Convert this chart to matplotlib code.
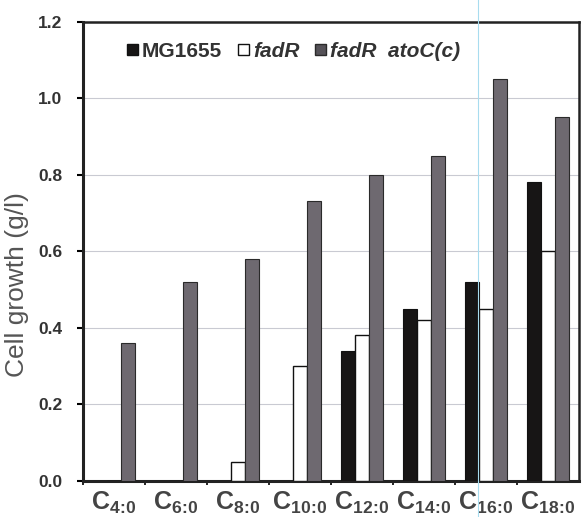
import numpy as np
import matplotlib
matplotlib.use('Agg')
import matplotlib.pyplot as plt
from matplotlib.patches import Patch
from matplotlib import font_manager

plt.rcParams['font.family'] = ['Liberation Sans', 'DejaVu Sans']
names = {f.name for f in font_manager.fontManager.ttflist}
narrow = 'Liberation Sans Narrow' if 'Liberation Sans Narrow' in names else 'Liberation Sans'
plt.rcParams['mathtext.fontset'] = 'custom'
plt.rcParams['mathtext.bf'] = narrow + ':bold'
plt.rcParams['mathtext.rm'] = narrow

categories = ['4', '6', '8', '10', '12', '14', '16', '18']
mg1655 = [0.0, 0.0, 0.0, 0.0, 0.34, 0.45, 0.52, 0.78]
fadr = [0.0, 0.0, 0.05, 0.30, 0.38, 0.42, 0.45, 0.60]
fadr_atoc = [0.36, 0.52, 0.58, 0.73, 0.80, 0.85, 1.05, 0.95]
yticks = [0.0, 0.2, 0.4, 0.6, 0.8, 1.0, 1.2]

fig = plt.figure(figsize=(5.82, 5.17), dpi=100)
ax = fig.add_axes([83/582, 1-481/517, 496/582, 459.5/517])

x = np.arange(len(categories))
w = 0.229
ax.bar(x + 0.5 - w, mg1655, w, color='#171515', edgecolor='#111111', lw=0.8, zorder=3)
ax.bar(x + 0.5, fadr, w, color='white', edgecolor='#111111', lw=1.0, zorder=3)
ax.bar(x + 0.5 + w, fadr_atoc, w, color='#6e6970', edgecolor='#2a2a2a', lw=0.8, zorder=3)

ax.set_xlim(0, len(categories))
ax.set_ylim(0, 1.2)
ax.set_yticks(yticks)
ax.set_yticklabels(['%.1f' % v for v in yticks], fontsize=12.5, fontweight='bold', color='#333333')
ax.yaxis.grid(True, color='#c9cad2', lw=0.8, zorder=0)

ax.set_xticks(x, minor=False)
ax.tick_params(axis='x', which='major', length=3, width=1.2, labelbottom=False)
ax.set_xticks(x + 0.5, minor=True)
ax.set_xticklabels([r'$\mathbf{C_{%s\!:\!0}}$' % c for c in categories], minor=True,
                   fontsize=18, color='#444444')
ax.tick_params(axis='x', which='minor', length=0, pad=6)
ax.tick_params(axis='y', length=4, width=1.5, pad=11)

ax.set_ylabel('Cell growth (g/l)', fontsize=19, color='#555555')
ax.yaxis.set_label_coords(-0.108, 0.427)

for s in ['left', 'bottom']:
    ax.spines[s].set_linewidth(2.2)
    ax.spines[s].set_color('#222222')
for s in ['top', 'right']:
    ax.spines[s].set_linewidth(1.8)
    ax.spines[s].set_color('#222222')

handles = [Patch(facecolor='#171515', edgecolor='#111111'),
           Patch(facecolor='white', edgecolor='#111111'),
           Patch(facecolor='#555258', edgecolor='#2a2a2a')]
labels = ['MG1655', 'fadR', 'fadR  atoC(c)']
leg = ax.legend(handles, labels, ncol=3, loc='center left', bbox_to_anchor=(0.0887, 0.935),
                frameon=False, handlelength=0.52, handleheight=0.5, handletextpad=0.2,
                columnspacing=0.75, borderpad=0, borderaxespad=0,
                prop={'weight': 'bold', 'size': 15})
for t in leg.get_texts()[1:]:
    t.set_style('italic')
for t in leg.get_texts():
    t.set_color('#333333')

# faint vertical scan line
fig.add_artist(plt.Line2D([477.5/582, 477.5/582], [0, 1], color='#a8dcef', lw=0.8))

fig.savefig('out.png', dpi=100)
